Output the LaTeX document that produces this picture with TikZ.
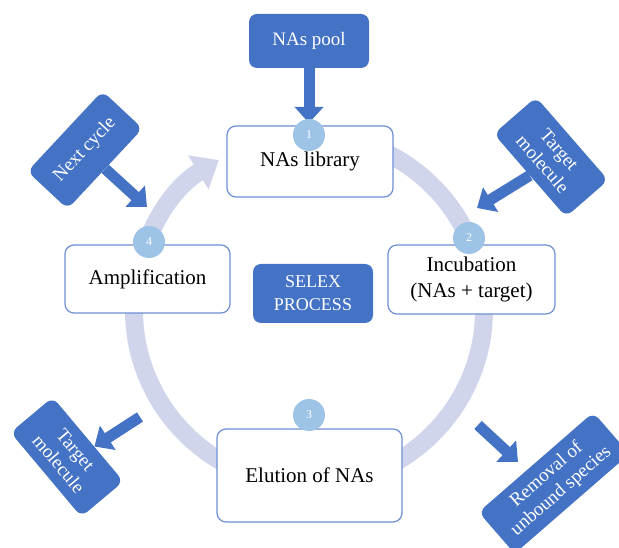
\documentclass[tikz,border=0pt]{standalone}
\usepackage{fontspec}
\setmainfont{Liberation Serif}
\usetikzlibrary{arrows.meta}
\definecolor{boxblue}{HTML}{4472C4}
\definecolor{edgeblue}{HTML}{6E8FD3}
\definecolor{ringblue}{HTML}{D0D5EC}
\definecolor{dotblue}{HTML}{9DC3E6}

\begin{document}
\begin{tikzpicture}[x=1pt,y=1pt,
    stage/.style={draw=edgeblue, line width=1.2pt, fill=white, rounded corners=9pt,
        align=center, inner sep=0pt, font=\fontsize{21}{26}\selectfont},
    tag/.style={fill=boxblue, text=white, rounded corners=8pt, align=center,
        inner sep=0pt, font=\fontsize{19}{22}\selectfont},
    dot/.style={circle, fill=dotblue, text=white, minimum size=32pt, inner sep=0pt,
        font=\fontsize{12}{12}\selectfont},
    push/.style={boxblue, line width=11pt, -{Triangle[width=28pt,length=16pt]}}]
    \clip (0,0) rectangle (619,548);
    % cycle ring
    \coordinate (c) at (309,238);
    \draw[ringblue, line width=18pt, -{Triangle[width=38pt,length=24pt]}]
        (c) ++(90:175) arc[start angle=90, end angle=-239, radius=175];
    % stages
    \node[stage, minimum width=166pt, minimum height=71pt] (lib) at (310,386.5) {NAs library};
    \node[stage, minimum width=167pt, minimum height=69pt] (inc) at (471.5,268.5) {Incubation\\(NAs + target)};
    \node[stage, minimum width=165pt, minimum height=68pt] (amp) at (147.5,269) {Amplification};
    \node[stage, minimum width=185pt, minimum height=93pt] (elu) at (309.5,72.5) {Elution of NAs};
    % blue tags
    \node[tag, minimum width=120pt, minimum height=54pt] (pool) at (309,507) {NAs pool};
    \node[tag, minimum width=120pt, minimum height=59pt, font=\fontsize{18}{23}\selectfont]
        (selex) at (313,254.5) {SELEX\\PROCESS};
    \node[tag, minimum width=110pt, minimum height=55pt, rotate=47] (next) at (85,398) {Next cycle};
    \node[tag, minimum width=110pt, minimum height=56pt, rotate=-49] (tgtA) at (551,391) {Target\\molecule};
    \node[tag, minimum width=110pt, minimum height=55pt, rotate=-50] (tgtB) at (67,91) {Target\\molecule};
    \node[tag, minimum width=152pt, minimum height=55pt, rotate=41] (rem) at (554,65) {Removal of\\unbound species};
    % block arrows
    \coordinate (poolTip) at (309,425);
    \coordinate (nextTip) at (147,341);
    \coordinate (tgtATip) at (477,340);
    \coordinate (tgtBTail) at (140,131);
    \coordinate (remTail) at (478,123);
    \coordinate (remTip) at (518,86);
    \draw[push] (pool.south) -- (poolTip);
    \draw[push] (next.south) -- (nextTip);
    \draw[push] (tgtA.south) -- (tgtATip);
    \draw[push] (tgtBTail) -- (tgtB.71);
    \draw[push] (remTail) -- (remTip);
    % step numbers
    \foreach \n/\x/\y in {1/309/413, 2/469/310, 3/309/133, 4/149/306}
        \node[dot] (n\n) at (\x,\y) {\n};
\end{tikzpicture}
\end{document}
